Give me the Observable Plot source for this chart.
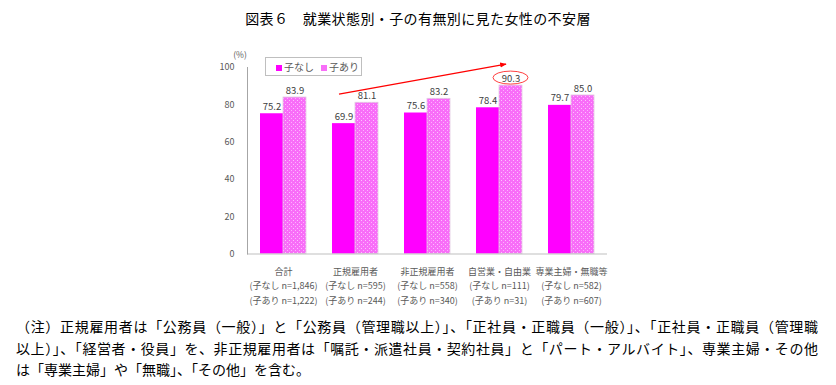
<!DOCTYPE html>
<html>
<head>
<meta charset="utf-8">
<script src="https://cdn.jsdelivr.net/npm/d3@7"></script>
<script src="https://cdn.jsdelivr.net/npm/@observablehq/plot@0.6"></script>
<style>
  html, body { margin: 0; padding: 0; background: #fff; }
  #page { position: relative; width: 836px; height: 385px; overflow: hidden; font-family: "Noto Sans CJK JP", sans-serif; }
  #title { position: absolute; top: 8px; left: 0; width: 836px; text-align: center; font-size: 14px; letter-spacing: 0.4px; color: #000; line-height: 20px; }
  #chart { position: absolute; top: 0; left: 0; }
  #legend { position: absolute; left: 265px; top: 57px; width: 95px; height: 17px; border: 1px solid #bfbfbf; background: #fff; font-size: 10px; color: #595959; line-height: 17px; }
  #legend span.item { position: absolute; top: 0; }
  #legend i { display: inline-block; width: 6px; height: 6px; margin-right: 2px; vertical-align: 0px; }
  .note { position: absolute; left: 16px; width: 802px; font-size: 14px; color: #000; line-height: 21px; white-space: nowrap; }
  .just { text-align: justify; text-align-last: justify; white-space: normal; }
</style>
</head>
<body>
<div id="page">
  <div id="title"></div>
  <div id="chart"></div>
  <div id="legend"></div>
  <div id="notes"></div>
</div>
<script>
const titleText = "図表６　就業状態別・子の有無別に見た女性の不安層";
const categories = ["合計", "正規雇用者", "非正規雇用者", "自営業・自由業", "専業主婦・無職等"];
const series = ["子なし", "子あり"];
const noChild = [75.2, 69.9, 75.6, 78.4, 79.7];
const withChild = [83.9, 81.1, 83.2, 90.3, 85.0];
const nNoChild = ["1,846", "595", "558", "111", "582"];
const nWithChild = ["1,222", "244", "340", "31", "607"];
const yTicks = [0, 20, 40, 60, 80, 100];
const yUnit = "(%)";
const arrowFrom = {category: "正規雇用者", series: "子なし", value: 85.5};
const arrowTo = {category: "自営業・自由業", series: "子あり", value: 101.6};
const highlight = {category: "自営業・自由業", series: "子あり", value: 90.3};
const noteLines = [
  "（注）正規雇用者は「公務員（一般）」と「公務員（管理職以上）」、「正社員・正職員（一般）」、「正社員・正職員（管理職",
  "以上）」、「経営者・役員」を、非正規雇用者は「嘱託・派遣社員・契約社員」と「パート・アルバイト」、専業主婦・その他",
  "は「専業主婦」や「無職」、「その他」を含む。"
];

document.getElementById("title").textContent = titleText;

const data = categories.flatMap((c, i) => [
  {category: c, series: series[0], value: noChild[i]},
  {category: c, series: series[1], value: withChild[i]}
]);

const W = 836, H = 310, ML = 246, MR = 229, MT = 67, MB = 56.5;

const plot = Plot.plot({
  width: W, height: H,
  marginLeft: ML, marginRight: MR, marginTop: MT, marginBottom: MB,
  style: {fontFamily: "'Noto Sans CJK JP', sans-serif", color: "#595959", background: "transparent", overflow: "visible"},
  fx: {domain: categories, paddingInner: 0, paddingOuter: 0, label: null},
  x: {domain: series, paddingInner: 0, paddingOuter: 0.504, axis: null},
  y: {domain: [0, 100], label: null},
  marks: [
    Plot.barY(data.filter(d => d.series === series[0]), {fx: "category", x: "series", y: "value", fill: "#FF00FF"}),
    Plot.barY(data.filter(d => d.series === series[1]), {fx: "category", x: "series", y: "value", fill: "url(#dots)", stroke: "#e0c8e0", strokeWidth: 0.8}),
    Plot.text(data, {fx: "category", x: "series", y: "value", text: d => d.value.toFixed(1), dy: -7, fontSize: 9.5, fill: "#404040"}),
    Plot.ruleY([0], {stroke: "#bfbfbf"}),
    Plot.frame({anchor: "left", facetAnchor: "left", stroke: "#a6a6a6"}),
    Plot.axisY(yTicks, {tickSize: 0, tickPadding: 13, fontSize: 9, fill: "#595959", label: null}),
    Plot.axisFx({anchor: "bottom", tickSize: 0, tickPadding: 10, fontSize: 9, lineHeight: 1.65, fill: "#595959", label: null,
      tickFormat: c => { const i = categories.indexOf(c); return `${c}\n(子なし n=${nNoChild[i]})\n(子あり n=${nWithChild[i]})`; }})
  ]
});

document.getElementById("chart").appendChild(plot);

const svg = d3.select(plot);
const defs = svg.insert("defs", ":first-child");
const pat = defs.append("pattern").attr("id", "dots").attr("patternUnits", "userSpaceOnUse").attr("width", 4).attr("height", 4);
pat.append("rect").attr("width", 4).attr("height", 4).attr("fill", "#F86EF8");
pat.append("rect").attr("x", 0).attr("y", 0).attr("width", 1).attr("height", 1).attr("fill", "#FFC0FF");
pat.append("rect").attr("x", 2).attr("y", 2).attr("width", 1).attr("height", 1).attr("fill", "#FFB0FF");

const fxS = plot.scale("fx"), xS = plot.scale("x"), yS = plot.scale("y");
const px = (c, s) => fxS.apply(c) + xS.apply(s) - xS.range[0];
const bw = xS.bandwidth;

// unit label
svg.append("text").attr("x", ML - 6).attr("y", MT - 9).attr("text-anchor", "middle")
  .attr("font-size", 8.5).attr("fill", "#595959").text(yUnit);

// arrow
const ax1 = px(arrowFrom.category, arrowFrom.series) + 7, ay1 = yS.apply(arrowFrom.value);
const ax2 = px(arrowTo.category, arrowTo.series) + 7, ay2 = yS.apply(arrowTo.value);
const mk = defs.append("marker").attr("id", "ah").attr("viewBox", "0 0 10 10").attr("refX", 9).attr("refY", 5)
  .attr("markerWidth", 5).attr("markerHeight", 5).attr("orient", "auto");
mk.append("path").attr("d", "M0,1L10,5L0,9z").attr("fill", "#FF0000");
svg.append("line").attr("x1", ax1).attr("y1", ay1).attr("x2", ax2).attr("y2", ay2)
  .attr("stroke", "#FF0000").attr("stroke-width", 1.3).attr("marker-end", "url(#ah)");

// ellipse
svg.append("ellipse").attr("cx", px(highlight.category, highlight.series) + bw / 2)
  .attr("cy", yS.apply(highlight.value) - 7.5).attr("rx", 17.5).attr("ry", 6.5)
  .attr("fill", "none").attr("stroke", "#FF4040").attr("stroke-width", 1);

// legend
const leg = document.getElementById("legend");
leg.innerHTML = `<span class="item" style="left:10px"><i style="background:#FF00FF"></i>${series[0]}</span>` +
  `<span class="item" style="left:55px"><i style="background:#F86EF8;background-image:radial-gradient(#FFC0FF 30%, transparent 31%);background-size:2px 2px"></i>${series[1]}</span>`;

// notes
const notes = document.getElementById("notes");
noteLines.forEach((t, i) => {
  const d = document.createElement("div");
  d.className = "note" + (i < noteLines.length - 1 ? " just" : "");
  d.style.top = (316 + i * 21.5) + "px";
  d.textContent = t;
  notes.appendChild(d);
});
</script>
</body>
</html>
